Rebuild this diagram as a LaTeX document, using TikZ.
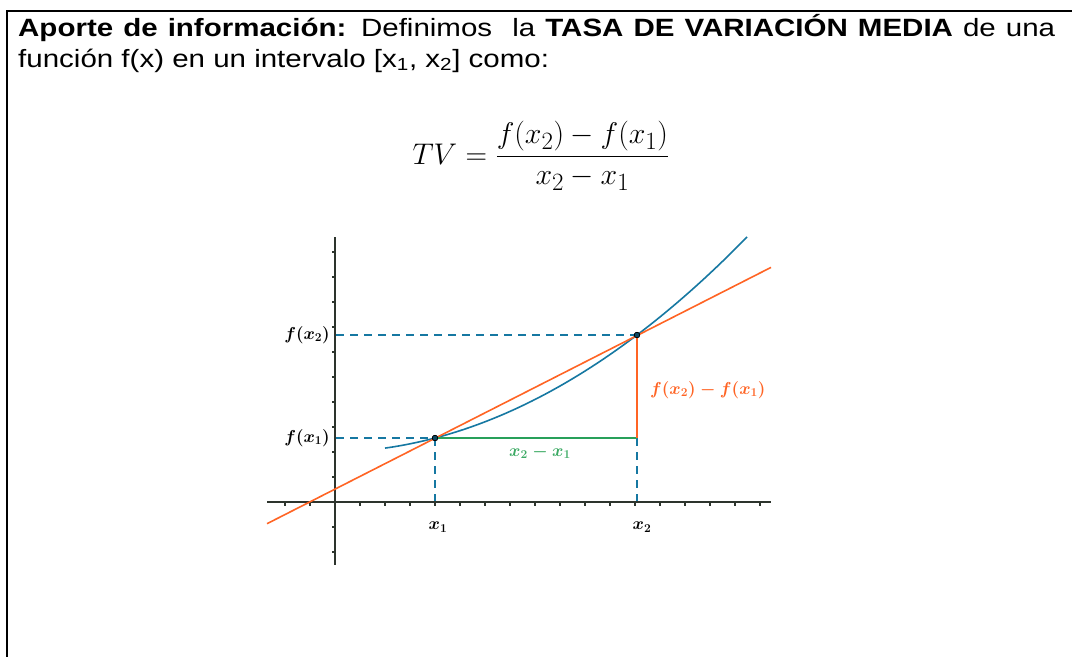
\documentclass[tikz,border=0pt]{standalone}
\usepackage{graphicx}
\usepackage{amsmath}
\usepackage[no-math]{fontspec}
\setmainfont{Liberation Sans}
\definecolor{gblue}{RGB}{22,120,162}
\definecolor{gorange}{RGB}{255,100,36}
\definecolor{ggreen}{RGB}{40,160,90}
\definecolor{glabgreen}{RGB}{60,170,100}
\definecolor{gaxis}{RGB}{45,52,45}
\begin{document}
\begin{tikzpicture}[x=1pt,y=-1pt,
  frameline/.style={line width=2pt,black},
  txt/.style={anchor=base west,inner sep=0pt,font=\fontsize{25}{30}\selectfont},
  axisline/.style={line width=1.6pt,gaxis},
  tick/.style={line width=1.2pt,gaxis},
  guide/.style={gblue,line width=1.4pt,dash pattern=on 8pt off 6pt},
  curve/.style={gblue,line width=1.6pt},
  secant/.style={gorange,line width=1.6pt},
  lab/.style={inner sep=0pt,font=\fontsize{16.5}{19}\selectfont\boldmath},
  pt/.style={circle,fill=gblue!60!black,draw=black,line width=0.6pt,inner sep=0pt,minimum size=5.5pt}
]
\useasboundingbox (0,0) rectangle (1072,657);
\fill[white] (0,0) rectangle (1072,657);
% frame
\coordinate (TL) at (7,11);
\coordinate (TR) at (1072,11);
\coordinate (BL) at (7,657);
\draw[frameline] (TR) -- (TL) -- (BL);
% text
\node[txt] (t1) at (18,36) {\scalebox{1.18}[1]{\makebox[878.8pt][s]{\textbf{Aporte de información:} Definimos \ la \textbf{TASA DE VARIACIÓN MEDIA} de una}}};
\node[txt] (t2) at (18,67) {\scalebox{1.18}[1]{función f(x) en un intervalo [x\textsubscript{1}, x\textsubscript{2}] como:}};
% formula
\node[anchor=base,inner sep=0pt,font=\fontsize{24.88}{30}\selectfont] (tv) at (541,164) {\scalebox{1.2}{$TV=\dfrac{f(x_2)-f(x_1)}{x_2-x_1}$}};
% key points
\coordinate (O) at (335,502);
\coordinate (XL) at (267,502);
\coordinate (XR) at (771,502);
\coordinate (YT) at (335,237);
\coordinate (YB) at (335,565);
\coordinate (Y1) at (336,438);
\coordinate (Y2) at (336,335);
\coordinate (A1) at (435,502);
\coordinate (A2) at (637,502);
\coordinate (Q) at (637,438);
\coordinate (SL) at (267,523.7);
\coordinate (SR) at (771,267.4);
% guides
\draw[guide] (Y2) -- (637,335);
\draw[guide] (Y1) -- (435,438);
\draw[guide] (435,438) -- (A1);
\draw[guide] (Q) -- (A2);
% axes
\draw[axisline] (XL) -- (XR);
\draw[axisline] (YT) -- (YB);
\foreach \k in {-2,-1,1,2,...,17} \draw[tick] ({335+25*\k},502) -- ++(0,3.5);
\foreach \k in {-2,-1,1,2,...,10} \draw[tick] (335,{502-25*\k}) -- ++(-3.5,0);
% curve
\draw[curve] plot[domain=385:747,samples=80,smooth] (\x,{502-25*(0.03053*((\x-335)/25)^2+0.019*((\x-335)/25)+1.9955)});
% secant
\draw[secant] (SL) -- (SR);
% increments
\node[pt] (P1) at (435,438) {};
\node[pt] (P2) at (637,335) {};
\draw[ggreen,line width=2pt] (P1) -- (Q);
\draw[gorange,line width=2pt] (P2) -- (Q);
\node[pt] at (435,438) {};
\node[pt] at (637,335) {};
% labels
\node[lab,anchor=east] (lf2) at (330,335) {$f(x_2)$};
\node[lab,anchor=east] (lf1) at (330,438) {$f(x_1)$};
\node[lab] (lx1) at (438,527) {$x_1$};
\node[lab] (lx2) at (642,527) {$x_2$};
\node[lab,anchor=west,text=gorange] (ld) at (650,390) {$f(x_2)-f(x_1)$};
\node[lab,text=glabgreen] (lh) at (540,452) {$x_2-x_1$};
\end{tikzpicture}
\end{document}
